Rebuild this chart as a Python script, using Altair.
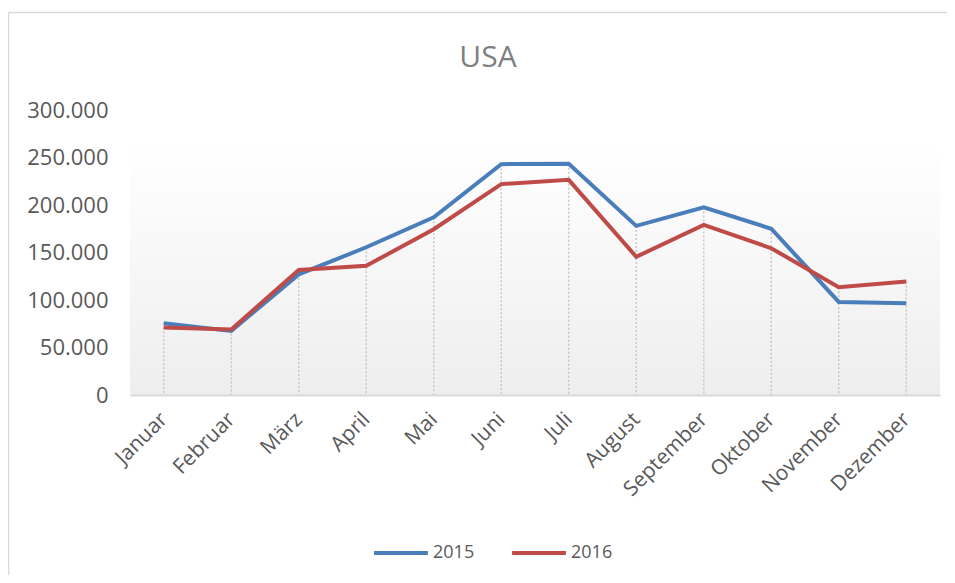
import altair as alt
import pandas as pd

months = ["Januar", "Februar", "März", "April", "Mai", "Juni", "Juli",
          "August", "September", "Oktober", "November", "Dezember"]
series_2015 = [75500, 67500, 127000, 155500, 187000, 243000, 243500,
               178000, 197500, 175000, 98000, 96500]
series_2016 = [71000, 69000, 131500, 136000, 174500, 222000, 226500,
               145500, 179000, 154500, 113500, 119500]
years = ["2015", "2016"]
year_colors = ["#4A7EBB", "#BE4B48"]
y_ticks = [0, 50000, 100000, 150000, 200000, 250000, 300000]
title_text = "USA"

W, H = 810, 285
FONT = "Open Sans"

long_df = pd.DataFrame({
    "Monat": months * 2,
    "Jahr": [years[0]] * len(months) + [years[1]] * len(months),
    "Wert": series_2015 + series_2016,
})
drop_df = pd.DataFrame({
    "Monat": months,
    "Max": [max(a, b) for a, b in zip(series_2015, series_2016)],
})

xscale = alt.Scale(type="point", domain=months, padding=0.5)
yscale = alt.Scale(domain=[0, 300000], nice=False, zero=True)

xaxis = alt.Axis(title=None, labelAngle=-45, labelAlign="right", labelBaseline="middle",
                 labelPadding=21, ticks=False, domainColor="#d9d9d9", domainWidth=2,
                 labelFont=FONT, labelFontSize=21, labelColor="#595959", grid=False,
                 zindex=1, labelOverlap=False)
yaxis = alt.Axis(title=None, values=y_ticks,
                 labelExpr="datum.value == 0 ? '0' : format(datum.value / 1000, 'd') + '.000'",
                 domain=False, ticks=False, grid=False, labelPadding=22,
                 labelFont=FONT, labelFontSize=22, labelColor="#595959")

one = pd.DataFrame({"k": [0]})

border_top = alt.Chart(one).mark_rule(color="#d9d9d9", strokeWidth=1.5).encode(
    x=alt.value(-121.5), x2=alt.value(W + 20), y=alt.value(-97.5)
)
border_left = alt.Chart(one).mark_rule(color="#d9d9d9", strokeWidth=1.5).encode(
    x=alt.value(-121.5), y=alt.value(-97.5), y2=alt.value(H + 195)
)

bg = alt.Chart(one).mark_rect(
    color=alt.Gradient(gradient="linear",
                       stops=[alt.GradientStop(color="#ffffff", offset=0),
                              alt.GradientStop(color="#eeeeee", offset=1)],
                       x1=0, x2=0, y1=0, y2=1)
).encode(x=alt.value(0), x2=alt.value(W), y=alt.value(35), y2=alt.value(H))

drops = alt.Chart(drop_df).mark_rule(color="#c8c8c8", strokeWidth=1.5, strokeDash=[2, 2]).encode(
    x=alt.X("Monat:N", sort=months, scale=xscale, axis=xaxis),
    y=alt.Y("Max:Q", scale=yscale, axis=yaxis),
    y2=alt.datum(0),
)

lines = alt.Chart(long_df).mark_line(strokeWidth=4).encode(
    x=alt.X("Monat:N", sort=months, scale=xscale, axis=xaxis),
    y=alt.Y("Wert:Q", scale=yscale, axis=yaxis),
    color=alt.Color("Jahr:N", scale=alt.Scale(domain=years, range=year_colors),
                    legend=alt.Legend(title=None, orient="none", direction="horizontal",
                                      legendX=242, legendY=414, symbolType="stroke",
                                      symbolStrokeWidth=4, symbolSize=2900,
                                      labelFont=FONT, labelFontSize=18, labelColor="#595959",
                                      labelOffset=3, columnPadding=29)),
)

title = alt.Chart(pd.DataFrame({"t": [title_text]})).mark_text(
    font=FONT, fontSize=30, color="#7f7f7f", align="center", baseline="alphabetic"
).encode(x=alt.value(358), y=alt.value(-43), text="t:N")

chart = alt.layer(border_top, border_left, bg, drops, lines, title).properties(
    width=W, height=H,
    padding={"left": 122, "top": 102, "right": 7, "bottom": 180},
    autosize=alt.AutoSizeParams(type="none"),
    background="white",
).configure_view(strokeWidth=0)

chart.save("out.html", embed_options={"renderer": "svg", "actions": False})
